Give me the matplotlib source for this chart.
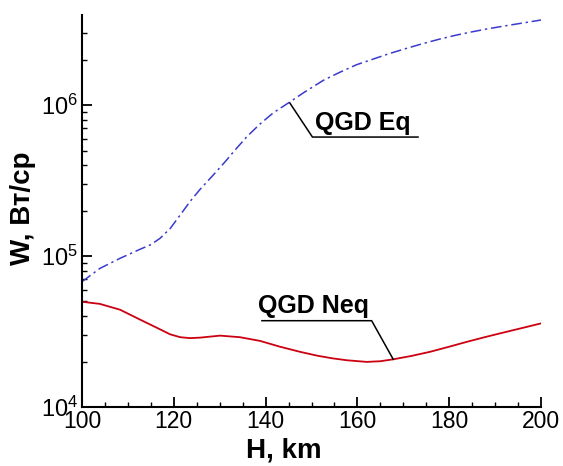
import matplotlib
matplotlib.use("Agg")
import math
import matplotlib.pyplot as plt
from matplotlib.ticker import FixedLocator, LogLocator, FuncFormatter, NullFormatter

plt.rcParams['font.family'] = ['Liberation Sans', 'DejaVu Sans']
plt.rcParams['mathtext.fontset'] = 'custom'
plt.rcParams['mathtext.rm'] = 'Liberation Sans'
plt.rcParams['mathtext.it'] = 'Liberation Sans'
plt.rcParams['mathtext.bf'] = 'Liberation Sans:bold'

# QGD Eq (blue dash-dot)
h_eq = [100, 103.9, 108.3, 112.6, 115.0, 117, 119.2, 121.4, 123.5, 125.7, 128.6, 131.5, 133.0,
        135.9, 138.8, 141.7, 144.9, 148.5, 152.6, 156.0, 159.8, 163.5, 167.1, 170.8,
        174.4, 178.0, 181.6, 185.3, 188.9, 192.5, 196.1, 200]
w_eq = [6.76e4, 8.28e4, 9.66e4, 1.107e5, 1.19e5, 1.31e5, 1.52e5, 1.87e5, 2.29e5, 2.76e5, 3.44e5, 4.32e5, 4.9e5,
        6.17e5, 7.5e5, 8.9e5, 1.03e6, 1.22e6, 1.46e6, 1.64e6, 1.85e6, 2.02e6, 2.2e6, 2.38e6,
        2.56e6, 2.74e6, 2.91e6, 3.07e6, 3.22e6, 3.36e6, 3.5e6, 3.66e6]

# QGD Neq (red solid)
h_neq = [100, 103.9, 108.3, 112.6, 117, 119.2, 121.4, 123.5, 125.7, 130.1, 134.4, 138.8, 143.1, 147.5,
         151.5, 154.6, 157.7, 162, 165.0, 167.8, 171.8, 175.8, 179.8, 183.8, 188.1, 192.5, 196.3, 200]
w_neq = [4.98e4, 4.82e4, 4.41e4, 3.80e4, 3.27e4, 3.03e4, 2.90e4, 2.86e4, 2.88e4, 2.97e4, 2.90e4, 2.74e4, 2.51e4, 2.32e4,
         2.18e4, 2.10e4, 2.04e4, 1.99e4, 2.01e4, 2.07e4, 2.18e4, 2.32e4, 2.50e4, 2.70e4, 2.92e4, 3.15e4, 3.36e4, 3.58e4]

x_ticks = [100, 120, 140, 160, 180, 200]
y_ticks = [1e4, 1e5, 1e6]

fig = plt.figure(figsize=(5.63, 4.66), dpi=100)
ax = fig.add_axes([0.1456, 0.1266, 0.8154, 0.8412])

ax.plot(h_eq, w_eq, color='#3a3ad0', lw=1.1, linestyle=(0, (7, 2.5, 1.5, 2.5)))
ax.plot(h_neq, w_neq, color='#cc0010', lw=1.3)

ax.set_yscale('log')
ax.set_xlim(100, 200)
ax.set_ylim(1e4, 3.95e6)

ax.xaxis.set_major_locator(FixedLocator(x_ticks))
ax.xaxis.set_minor_locator(FixedLocator([v for v in range(100, 201, 5) if v % 20]))
ax.yaxis.set_major_locator(FixedLocator(y_ticks))
ax.yaxis.set_minor_locator(LogLocator(base=10, subs=[2, 3, 4, 5, 6, 7, 8, 9]))
ax.yaxis.set_minor_formatter(NullFormatter())

def yfmt(v, pos):
    e = int(round(math.log10(v)))
    return r'$\mathregular{10^{%d}}$' % e
ax.yaxis.set_major_formatter(FuncFormatter(yfmt))

ax.spines['top'].set_visible(False)
ax.spines['right'].set_visible(False)
ax.spines['left'].set_linewidth(1.5)
ax.spines['bottom'].set_linewidth(1.5)

ax.tick_params(which='major', direction='in', length=7, width=1.3)
ax.tick_params(which='minor', direction='in', length=3.6, width=1.0)
ax.tick_params(axis='x', which='major', labelsize=16.5, pad=2)
ax.tick_params(axis='y', which='major', labelsize=17, pad=3)

ax.set_xlabel('H, km', fontsize=20, fontweight='bold', va='top', ha='center')
ax.xaxis.set_label_coords(0.4386, -0.079)
ax.set_ylabel('W, Вт/ср', fontsize=20, fontweight='bold', va='center', ha='center')
ax.yaxis.set_label_coords(-0.1285, 0.5077)

# annotations
ax.text(150.8, 6.85e5, 'QGD Eq', fontsize=18, fontweight='bold', va='baseline', ha='left')
ax.plot([145.3, 150.2, 173.2], [1.03e6, 6.14e5, 6.14e5], color='black', lw=1.1)

ax.text(138.4, 4.19e4, 'QGD Neq', fontsize=18, fontweight='bold', va='baseline', ha='left')
ax.plot([139.2, 163.1, 167.8], [3.73e4, 3.73e4, 2.07e4], color='black', lw=1.1)

fig.savefig('out.png', dpi=100)
